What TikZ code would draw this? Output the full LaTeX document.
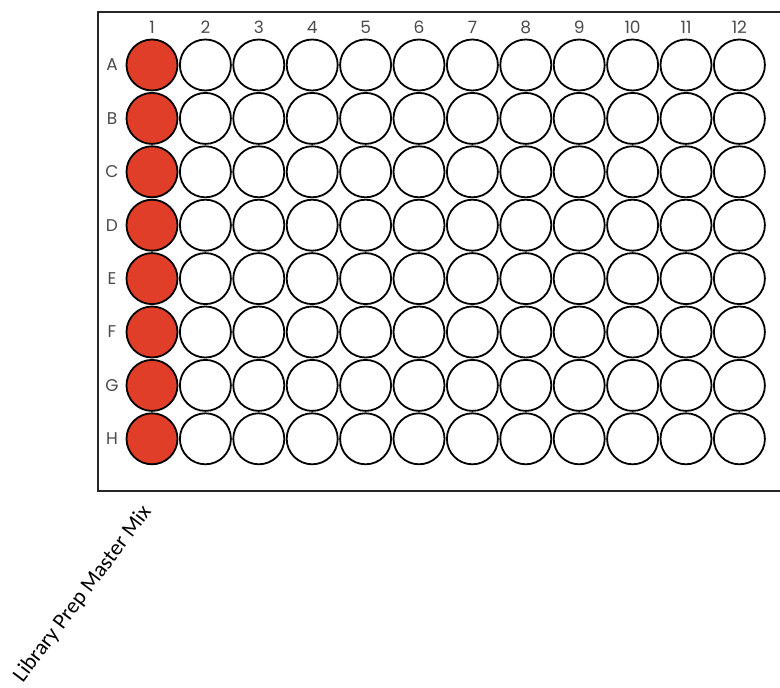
\documentclass[tikz,border=0pt]{standalone}
\usepackage{fontspec}
\setmainfont{Carlito}
\newfontfamily\labelfont{Poppins}
\definecolor{wellred}{RGB}{224,62,40}
\definecolor{labelgray}{RGB}{75,75,75}
\tikzset{
  well/.style={circle, draw=black, line width=1.8pt, fill=white, minimum size=51pt, inner sep=0pt},
  filledwell/.style={well, fill=wellred},
  plate/.style={draw=black!85, line width=1.8pt},
  idx/.style={font=\labelfont\fontsize{17}{17}\selectfont, text=labelgray, inner sep=0pt},
  reagent/.style={font=\fontsize{22}{22}\selectfont, inner sep=0pt, rotate=53, anchor=base east}
}
\begin{document}
\begin{tikzpicture}[x=1pt,y=-1pt]
\useasboundingbox (0,0) rectangle (780,688);
\clip (0,0) rectangle (780,688);
\fill[white] (0,0) rectangle (780,688);
\draw[plate] (98,12) rectangle (800,491);
\foreach \c in {1,...,12} {
  \node[idx] (col\c) at ({152+(\c-1)*53.4},27) {\c};
}
\foreach \r [count=\i from 0] in {A,B,C,D,E,F,G,H} {
  \node[idx] (row\r) at (112,{65+\i*53.4}) {\r};
  \node[filledwell] (w\r1) at (152,{65+\i*53.4}) {};
  \foreach \c in {2,...,12} {
    \node[well] (w\r\c) at ({152+(\c-1)*53.4},{65+\i*53.4}) {};
  }
}
\node[reagent] (mix) at (152,512) {Library Prep Master Mix};
\end{tikzpicture}
\end{document}
